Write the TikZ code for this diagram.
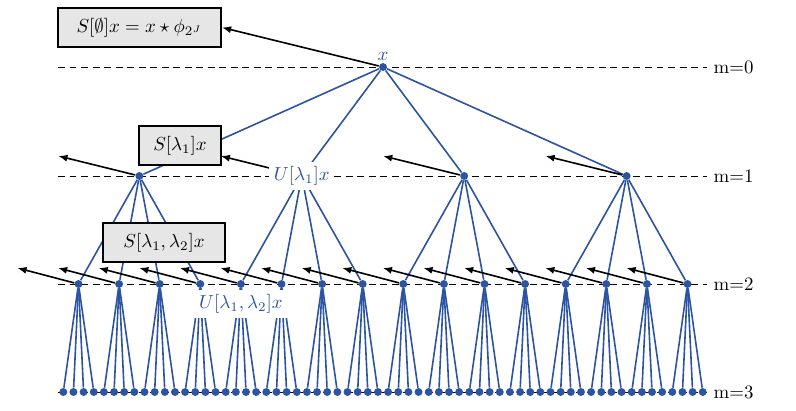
\documentclass[tikz,border=0pt]{standalone}
\usepackage{amsmath}
\usepackage{amssymb}
\usepackage{tikz}
\usetikzlibrary{positioning, arrows.meta}
\definecolor{scatblue}{RGB}{44,84,160}
\definecolor{scatgray}{RGB}{229,230,229}
\def\levely{67, 176, 284, 392}

\begin{document}
\begin{tikzpicture}[x=0.53pt, y=-0.53pt,
  dot/.style={circle, fill=scatblue, inner sep=0pt, minimum size=4.2pt},
  edge/.style={scatblue, line width=0.85pt},
  arr/.style={-{Latex[length=4.8pt,width=3.8pt]}, line width=0.85pt},
  sbox/.style={draw, fill=scatgray, line width=1.1pt, minimum height=21pt, inner sep=0pt},
  ulbl/.style={text=scatblue, fill=white, inner sep=2.5pt}]
  \useasboundingbox (0,0) rectangle (796,410);
  \foreach \m [count=\c,evaluate=\c as \y using {{\levely}[\c-1]}] in {0,1,2,3}{
    \node[anchor=west] (m\m) at (707,\y) {m=\m};
    \draw[dash pattern=on 3.7pt off 2.4pt] (58,\y) -- (m\m.west);
  }
  \node[dot] (r) at (383,67) {};
  \foreach \i in {0,...,3} \node[dot] (a\i) at (139.4+162.4*\i,176) {};
  \foreach \j in {0,...,15} \node[dot] (b\j) at (78.5+40.6*\j,284) {};
  \foreach \k in {0,...,63} \node[dot] (c\k) at (63.3+10.15*\k,392) {};
  \foreach \i in {0,...,3} \draw[edge] (r) -- (a\i);
  \foreach \j [evaluate=\j as \i using {int(\j/4)}] in {0,...,15} \draw[edge] (a\i) -- (b\j);
  \foreach \k [evaluate=\k as \j using {int(\k/4)}] in {0,...,63} \draw[edge] (b\j) -- (c\k);
  \node[sbox, minimum width=86.4pt, minimum height=20.7pt] (s0) at (139.5,27.5) {$S[\emptyset]x = x\star\phi_{2^J}$};
  \node[sbox, minimum width=43.5pt] (s1) at (180,145.5) {$S[\lambda_1]x$};
  \node[sbox, minimum width=64.7pt] (s2) at (164,242.5) {$S[\lambda_1,\lambda_2]x$};
  \draw[arr] (r) -- (s0.east);
  \foreach \i in {0,...,3} \draw[arr] (a\i) -- ++(-81,-20);
  \foreach \j in {0,...,15} \draw[arr] (b\j) -- ++(-61,-16);
  \node[text=scatblue, inner sep=1pt, above=0pt of r] (xr) {$x$};
  \node[ulbl] (u1) at (a1) {$U[\lambda_1]x$};
  \node[ulbl, below=0.5pt of b4] (u2) {$U[\lambda_1,\lambda_2]x$};
\end{tikzpicture}
\end{document}
